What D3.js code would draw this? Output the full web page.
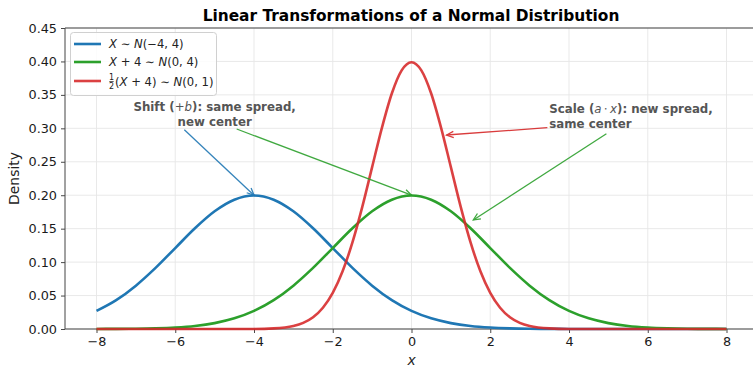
<!DOCTYPE html>
<html><head><meta charset="utf-8">
<script src="https://cdn.jsdelivr.net/npm/d3@7"></script>
<style>
html,body{margin:0;padding:0;background:#fff;}
svg{display:block;font-family:"DejaVu Sans",sans-serif;}
</style></head>
<body><svg id="chart" width="753" height="367"></svg>
<script>
// ---------- data ----------
const xs = [-8,-7.5,-7,-6.5,-6,-5.5,-5,-4.5,-4,-3.5,-3,-2.5,-2,-1.5,-1,-0.5,0,0.5,1,1.5,2,2.5,3,3.5,4,4.5,5,5.5,6,6.5,7,7.5,8];
const blueY = [0.0270,0.0431,0.0648,0.0913,0.1210,0.1506,0.1760,0.1933,0.1995,0.1933,0.1760,0.1506,0.1210,0.0913,0.0648,0.0431,0.0270,0.0159,0.0088,0.0045,0.0022,0.0010,0.0004,0.0002,0.0001,0,0,0,0,0,0,0,0];
const greenY = [0.0001,0.0002,0.0004,0.0010,0.0022,0.0045,0.0088,0.0159,0.0270,0.0431,0.0648,0.0913,0.1210,0.1506,0.1760,0.1933,0.1995,0.1933,0.1760,0.1506,0.1210,0.0913,0.0648,0.0431,0.0270,0.0159,0.0088,0.0045,0.0022,0.0010,0.0004,0.0002,0.0001];
const redX = [-8,-7,-6,-5,-4,-3.5,-3,-2.75,-2.5,-2.25,-2,-1.75,-1.5,-1.25,-1,-0.75,-0.5,-0.25,0,0.25,0.5,0.75,1,1.25,1.5,1.75,2,2.25,2.5,2.75,3,3.5,4,5,6,7,8];
const redY = [0,0,0,0,0.0001,0.0009,0.0044,0.0091,0.0175,0.0317,0.0540,0.0863,0.1295,0.1826,0.2420,0.3011,0.3521,0.3867,0.3989,0.3867,0.3521,0.3011,0.2420,0.1826,0.1295,0.0863,0.0540,0.0317,0.0175,0.0091,0.0044,0.0009,0.0001,0,0,0,0];
const xTicks = [-8,-6,-4,-2,0,2,4,6,8];
const yTicks = [0,0.05,0.10,0.15,0.20,0.25,0.30,0.35,0.40,0.45];
const titleText = "Linear Transformations of a Normal Distribution";
const xLabel = "x";
const yLabel = "Density";
const shiftArrows = [{from:[-5.77,0.298], to:[-4,0.2], color:"#1f77b4"},
                     {from:[-4.44,0.299], to:[0,0.2], color:"#2ca02c"}];
const scaleArrows = [{from:[3.45,0.301], to:[0.89,0.290], color:"#d62728"},
                     {from:[4.95,0.292], to:[1.57,0.163], color:"#2ca02c"}];

// ---------- layout ----------
const svg = d3.select("#chart");
const L = 65, T = 28, B = 329;
const x = d3.scaleLinear().domain([-8.8, 8.8]).range([L, L + 17.6 * 39.375]);
const y = d3.scaleLinear().domain([0, 0.45]).range([B, T]);
const R = x(8.8);

svg.append("defs").selectAll("marker").data(["#1f77b4","#2ca02c","#d62728"]).join("marker")
  .attr("id", (d,i)=>"arr"+i).attr("viewBox","-10 -6 12 12").attr("refX",0).attr("refY",0)
  .attr("markerWidth",12).attr("markerHeight",12).attr("markerUnits","userSpaceOnUse").attr("orient","auto")
  .append("path").attr("d","M-7,-3.2 L0,0 L-7,3.2").attr("fill","none").attr("stroke",d=>d).attr("stroke-width",1.3);
const markerIdx = {"#1f77b4":0,"#2ca02c":1,"#d62728":2};

// grid
const g = svg.append("g");
g.selectAll(".vg").data(xTicks).join("line").attr("x1",d=>x(d)).attr("x2",d=>x(d)).attr("y1",T).attr("y2",B)
  .attr("stroke","#e6e6e6").attr("stroke-width",0.9);
g.selectAll(".hg").data(yTicks).join("line").attr("x1",L).attr("x2",R).attr("y1",d=>y(d)).attr("y2",d=>y(d))
  .attr("stroke","#e6e6e6").attr("stroke-width",0.9);

// axes
const xAxis = svg.append("g").attr("transform",`translate(0,${B})`)
  .call(d3.axisBottom(x).tickValues(xTicks).tickSize(4).tickPadding(4).tickFormat(d=>d<0?"\u2212"+Math.abs(d):d));
const yAxis = svg.append("g").attr("transform",`translate(${L},0)`)
  .call(d3.axisLeft(y).tickValues(yTicks).tickSize(4).tickPadding(4).tickFormat(d3.format(".2f")));
[xAxis,yAxis].forEach(a=>{
  a.select(".domain").remove();
  a.selectAll(".tick line").attr("stroke","#333").attr("stroke-width",0.9);
  a.selectAll(".tick text").attr("fill","#1a1a1a").style("font-size","12.8px").style("font-family","DejaVu Sans");
});
// spines
svg.append("line").attr("x1",L).attr("x2",L).attr("y1",T).attr("y2",B).attr("stroke","#444").attr("stroke-width",1);
svg.append("line").attr("x1",L).attr("x2",R).attr("y1",B).attr("y2",B).attr("stroke","#444").attr("stroke-width",1);
svg.append("line").attr("x1",L).attr("x2",R).attr("y1",T).attr("y2",T).attr("stroke","#444").attr("stroke-width",1);

// curves
const line = d3.line().x(d=>x(d[0])).y(d=>y(d[1])).curve(d3.curveMonotoneX);
const series = [
  {pts: xs.map((v,i)=>[v,blueY[i]]), color:"#1f77b4", op:1},
  {pts: xs.map((v,i)=>[v,greenY[i]]), color:"#2ca02c", op:1},
  {pts: redX.map((v,i)=>[v,redY[i]]), color:"#d62728", op:0.88}
];
svg.selectAll(".curve").data(series).join("path").attr("d",d=>line(d.pts))
  .attr("fill","none").attr("stroke",d=>d.color).attr("stroke-opacity",d=>d.op).attr("stroke-width",2.6).attr("stroke-linejoin","round");

// annotations
function arrows(list){
  svg.selectAll(null).data(list).join("line")
    .attr("x1",d=>x(d.from[0])).attr("y1",d=>y(d.from[1]))
    .attr("x2",d=>x(d.to[0])).attr("y2",d=>y(d.to[1]))
    .attr("stroke",d=>d.color).attr("stroke-width",1.3).attr("opacity",0.9)
    .attr("marker-end",d=>`url(#arr${markerIdx[d.color]})`);
}
arrows(shiftArrows); arrows(scaleArrows);

const annStyle = s => s.attr("fill","#555").style("font-weight","bold").style("font-size","11.8px");
const t1 = svg.append("text").attr("text-anchor","middle").call(annStyle);
t1.append("tspan").attr("x",x(-5)).attr("y",111).text("Shift (");
t1.append("tspan").style("font-weight","normal").text("+");
t1.append("tspan").style("font-weight","normal").style("font-style","italic").text("b");
t1.append("tspan").text("): same spread,");
t1.append("tspan").attr("x",x(-5)).attr("y",126).text("new center");

const t2 = svg.append("text").attr("text-anchor","start").call(annStyle);
t2.append("tspan").attr("x",x(3.5)).attr("y",113).text("Scale (");
t2.append("tspan").style("font-weight","normal").style("font-style","italic").text("a");
t2.append("tspan").style("font-weight","normal").text("\u2009\u22C5\u2009");
t2.append("tspan").style("font-weight","normal").style("font-style","italic").text("x");
t2.append("tspan").text("): new spread,");
t2.append("tspan").attr("x",x(3.5)).attr("y",128).text("same center");

// legend
const lg = svg.append("g");
lg.append("rect").attr("x",70.5).attr("y",32.5).attr("width",146).attr("height",63).attr("rx",3)
  .attr("fill","#fff").attr("fill-opacity",0.85).attr("stroke","#d0d0d0").attr("stroke-width",1);
const legRows = [
  {color:"#1f77b4", y:44, op:1},
  {color:"#2ca02c", y:62, op:1},
  {color:"#d62728", y:81, op:0.88}
];
lg.selectAll(".ll").data(legRows).join("line").attr("x1",74).attr("x2",101).attr("y1",d=>d.y).attr("y2",d=>d.y)
  .attr("stroke",d=>d.color).attr("stroke-opacity",d=>d.op).attr("stroke-width",2.6);
const fs = "11.6px";
function mtext(xp, yp){ return lg.append("text").attr("x",xp).attr("y",yp).style("font-size",fs).attr("fill","#222"); }
const r1 = mtext(109, 48);
r1.append("tspan").style("font-style","italic").text("X");
r1.append("tspan").text(" \u223C ");
r1.append("tspan").style("font-style","italic").text("N");
r1.append("tspan").text("(\u22124, 4)");
const r2 = mtext(109, 66);
r2.append("tspan").style("font-style","italic").text("X");
r2.append("tspan").text(" + 4 \u223C ");
r2.append("tspan").style("font-style","italic").text("N");
r2.append("tspan").text("(0, 4)");
lg.append("text").attr("x",111.5).attr("y",80).attr("text-anchor","middle").style("font-size","8px").attr("fill","#222").text("1");
lg.append("line").attr("x1",109.3).attr("x2",113.7).attr("y1",81.5).attr("y2",81.5).attr("stroke","#222").attr("stroke-width",0.7);
lg.append("text").attr("x",111.5).attr("y",88.5).attr("text-anchor","middle").style("font-size","8px").attr("fill","#222").text("2");
const r3 = mtext(115, 85.5);
r3.append("tspan").text("(");
r3.append("tspan").style("font-style","italic").text("X");
r3.append("tspan").text(" + 4) \u223C ");
r3.append("tspan").style("font-style","italic").text("N");
r3.append("tspan").text("(0, 1)");

// title & labels
svg.append("text").attr("x",411).attr("y",21).attr("text-anchor","middle")
  .style("font-weight","bold").style("font-size","15.4px").attr("fill","#000").text(titleText);
svg.append("text").attr("x",x(0)).attr("y",364.5).attr("text-anchor","middle")
  .style("font-style","italic").style("font-size","13.9px").attr("fill","#222").text(xLabel);
svg.append("text").attr("transform",`translate(19,${(T+B)/2}) rotate(-90)`).attr("text-anchor","middle")
  .style("font-size","13.9px").attr("fill","#222").text(yLabel);
</script></body></html>
